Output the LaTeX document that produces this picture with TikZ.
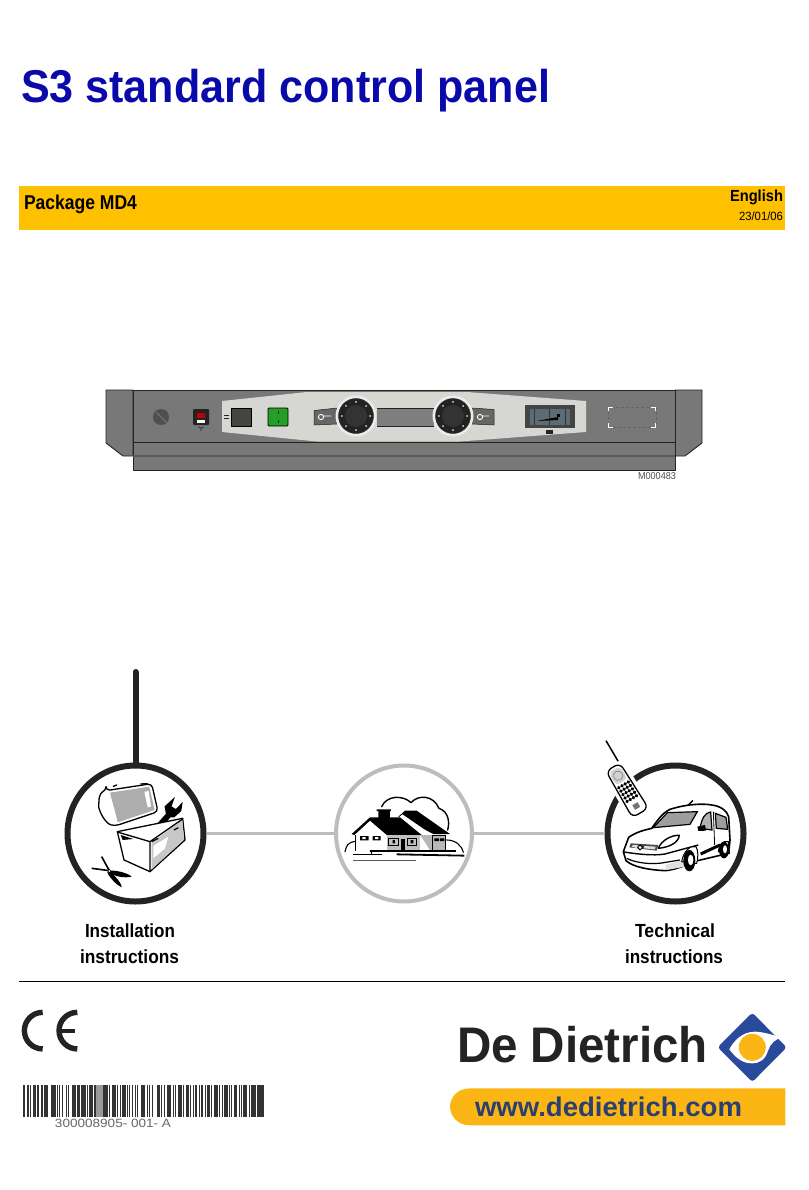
\documentclass[tikz,border=0pt]{standalone}
\usepackage{fontspec}
\usepackage{graphicx}
\setmainfont{Liberation Sans}
\usetikzlibrary{shapes.geometric}
\definecolor{barY}{HTML}{FFC000}
\definecolor{titleB}{HTML}{0A0AAA}
\definecolor{logoB}{HTML}{2A4A9C}
\definecolor{logoY}{HTML}{FBB616}
\definecolor{urlB}{HTML}{2B4070}
\definecolor{panelG}{HTML}{787878}
\definecolor{panelL}{HTML}{D6D6D2}
\definecolor{ringG}{HTML}{BDBDBD}
\definecolor{dk}{HTML}{232323}
\definecolor{glass}{HTML}{5C6C74}
\newcommand{\fitw}[2]{\resizebox{#1pt}{\height}{#2}}
\newcommand{\fsz}[1]{\fontsize{#1pt}{#1pt}\selectfont}
\tikzset{
 lbl/.style={inner sep=0pt,outer sep=0pt,anchor=base west},
 ring/.style={circle,draw=dk,line width=6pt,minimum size=136pt,inner sep=0pt,fill=white},
 gring/.style={circle,draw=ringG,line width=4pt,minimum size=136pt,inner sep=0pt,fill=white},
 link/.style={draw=ringG,line width=3pt},
 ink/.style={draw=black,line width=1.3pt,line join=round,line cap=round},
 pan/.style={draw=dk,line width=.9pt,fill=panelG,line join=round},
 knob/.style={circle,fill=dk,draw=dk,minimum size=35pt,inner sep=0pt},
 keybtn/.style={draw=dk,line width=.5pt,fill=panelG!85!black},
}
\begin{document}
\begin{tikzpicture}[x=1pt,y=-1pt]
\useasboundingbox (0,0) rectangle (808,1190);
\fill[white] (0,0) rectangle (808,1190);

% header
\node[lbl,text=titleB] (title) at (21,103) {\fsz{46}\bfseries\fitw{529}{S3 standard control panel}};
\node[fill=barY,minimum width=766pt,minimum height=44pt,inner sep=0pt,anchor=north west] (bar) at (19,186) {};
\node[lbl] (pkg) at (24,210) {\fsz{20}\bfseries\fitw{113}{Package MD4}};
\node[lbl,anchor=base east] (eng) at (783,202) {\fsz{16}\bfseries\fitw{53}{English}};
\node[lbl,anchor=base east] (dat) at (783,221) {\fsz{12}\fitw{44}{23/01/06}};

% control panel
\draw[pan] (133,390) -- (106,390) -- (106,443) -- (123,456) -- (133,456) -- cycle;
\draw[pan] (675,390) -- (702,390) -- (702,443) -- (685,456) -- (675,456) -- cycle;
\draw[pan] (133,442) rectangle (675,470);
\fill[panelG!75!black] (133,454.5) rectangle (675,457);
\draw[pan,line width=1pt] (133,390) rectangle (675,442);
\fill[panelL] (222,401) -- (307,392) -- (467,392) -- (586,401) -- (586,432) -- (460,441.5) -- (317,441.5) -- (222,432) -- cycle;
\fill[dk!80!white] (161,417) circle (8);
\draw[panelG,line width=.8pt] (156,412) -- (166,422);
\fill[dk,rounded corners=1pt] (193,409) rectangle (209,425);
\fill[red!75!black] (197,412.5) rectangle (205,418);
\fill[white] (197,420) rectangle (205,423);
\draw[dk,line width=.6pt] (198,427) -- (201,428) -- (204,427) (201,428) -- (201,431);
\draw[dk,line width=1pt] (224,415) -- (229,415) (224,418) -- (229,418);
\draw[black,line width=.8pt,fill=dk!85!white] (231.5,408) rectangle (251,426);
\draw[black,line width=.8pt,fill=green!55!black!85!white,rounded corners=1pt] (268,408) rectangle (288,426);
\draw[dk,line width=.8pt] (278,411) -- (278,413.5) (278,420) -- (278,423);
% left key
\draw[keybtn] (314,410.5) -- (337,408) -- (337,424) -- (314,425) -- cycle;
\draw[white,line width=.9pt] (321,417) circle (2.6) (323.5,416) -- (331,416);
% right key
\draw[keybtn] (472,408) -- (494,409.5) -- (494,425) -- (472,424) -- cycle;
\draw[white,line width=.9pt] (480,417) circle (2.6) (482.5,416) -- (489,416);
% display
\fill[panelG!95!white] (377,408) -- (434,408) -- (434,426) -- (377,426) -- cycle;
\draw[dk,line width=.4pt] (377,408) -- (434,408) (377,426) -- (434,426);
% knobs
\fill[panelL!50!white] (356,416) circle (20.5);
\fill[panelL!50!white] (453,416) circle (20.5);
\node[knob] (k1) at (356,416) {};
\node[knob] (k2) at (453,416) {};
\fill[black!80] (356,416) circle (11);
\fill[black!80] (453,416) circle (11);
\foreach \cx in {356,453} \foreach \a in {0,45,...,315} {
  \fill[white!85!black] (\cx,416) ++(\a:14.2) circle (1);
}
% window
\fill[dk!85!white] (525,405) rectangle (574.5,428);
\fill[glass] (530,409) rectangle (570,425);
\draw[black!80,line width=.5pt] (549,409) -- (549,425) (534,409) -- (534,425) (565,409) -- (565,425);
\fill[black] (537,421) -- (558,417) -- (558,420) -- cycle;
\fill[black] (557,414) rectangle (560,416.5);
\fill[dk] (546,430) rectangle (553,434);
% dashed box
\draw[dk!70!white,line width=.5pt,densely dashed] (608,407) rectangle (656,427);
\draw[white,line width=.9pt] (608.5,411) -- (608.5,407) -- (613,407) (651,407) -- (655.5,407) -- (655.5,411)
  (655.5,423) -- (655.5,427) -- (651,427) (613,427) -- (608.5,427) -- (608.5,423);
\node[lbl,text=black!70] (ref) at (638,479) {\fsz{10}\fitw{38}{M000483}};

% circles and connectors
\coordinate (ant) at (135.5,672);
\node[ring] (cl) at (135.5,833.5) {};
\node[gring] (cm) at (404,833.5) {};
\node[ring] (cr) at (675.5,833.5) {};
\draw[link] (cl) -- (cm);
\draw[link] (cm) -- (cr);
\draw[dk,line width=6pt,line cap=round] (ant) -- (cl.north);

% toolbox
\begin{scope}[shift={(50,660)},x=.3333pt,y=-.3333pt]
\draw[ink] (190,379) -- (200,375) (272,372) -- (292,371);
\draw[ink,fill=white,rounded corners=4pt] (168,392) -- (305,371) -- (324,455) -- (195,498) .. controls (165,490) and (145,450) .. (147,425) .. controls (148,405) and (155,397) .. (168,392) -- cycle;
\fill[black!32] (180,398) -- (298,380) -- (314,450) -- (203,487) .. controls (195,450) and (185,420) .. (180,398) -- cycle;
\fill[white] (283,395) -- (296,393) -- (303,440) -- (293,442) -- cycle;
\draw[black,line width=1.4pt,fill=black] (332,505) -- (318,498) -- (350,462) -- (346,440) -- (370,418) -- (362,440) -- (378,450) -- (395,432) -- (392,452) -- (372,470) -- (360,470) -- cycle;
\draw[ink,fill=white] (202,515) -- (398,475) -- (405,540) -- (300,635) -- (222,600) -- cycle;
\fill[black!22] (305,548) -- (397,480) -- (402,538) -- (305,628) -- cycle;
\fill[white] (310,558) -- (355,530) -- (345,565) -- (310,595) -- cycle;
\draw[ink] (205,517) -- (300,545) -- (398,477) (300,545) -- (300,635);
\fill[black] (212,525) -- (250,537) -- (218,540) -- cycle;
\draw[black,line width=1.2pt] (305,545) -- (325,535) (372,510) -- (385,503);
\draw[black,line width=1.6pt] (155,590) -- (178,632);
\draw[black,line width=1.6pt] (125,625) -- (178,632);
\fill[black] (178,632) .. controls (200,630) and (235,640) .. (245,650) .. controls (225,655) and (195,650) .. (178,638) -- cycle;
\fill[black] (176,634) .. controls (195,645) and (215,670) .. (215,682) .. controls (200,675) and (180,655) .. (172,638) -- cycle;
\fill[white] (178,633) circle (5); \draw[black,line width=.6pt] (178,633) circle (5);
\end{scope}

% house
\begin{scope}[shift={(325,755)},x=.3333pt,y=-.3333pt]
\draw[ink,line width=1.4pt] (170,155) .. controls (185,120) and (235,120) .. (258,143) .. controls (280,118) and (325,120) .. (342,160) .. controls (370,170) and (375,200) .. (368,225);
\draw[ink,line width=1.1pt] (60,290) .. controls (65,270) and (70,265) .. (78,262) .. controls (95,255) and (110,262) .. (122,278) .. controls (130,280) and (138,285) .. (140,295);
\draw[ink,line width=1.1pt] (365,255) .. controls (390,255) and (410,270) .. (415,292);
% right wing
\fill[black] (220,185) -- (240,167) -- (275,167) -- (375,237) -- (325,237) -- cycle;
\fill[white] (222,187) -- (232,178) -- (318,237) -- (285,237) -- cycle;
\fill[black!28] (285,240) -- (322,240) -- (322,287) -- (315,287) -- cycle;
\fill[white] (285,240) -- (315,287) -- (285,287) -- cycle;
\draw[black,line width=1pt,fill=black!28] (322,240) rectangle (363,287);
\fill[black] (328,250) rectangle (342,258) (345,250) rectangle (358,258);
% main
\fill[black] (80,237) -- (135,187) -- (160,187) -- (160,168) -- (155,168) -- (155,163) -- (198,163) -- (198,168) -- (195,168) -- (195,187) -- (225,187) -- (290,240) -- (185,240) -- (135,197) -- (88,240) -- cycle;
\fill[white] (92,240) -- (135,199) -- (183,240) -- (183,287) -- (92,287) -- cycle;
\fill[black!25] (186,240) rectangle (285,287);
\draw[black,line width=.8pt] (92,240) -- (92,287);
\fill[black] (105,243) rectangle (131,256) (143,243) rectangle (167,256);
\fill[white] (112,246) rectangle (122,252) (150,246) rectangle (160,252);
\draw[black,line width=1pt] (192,250) rectangle (220,270) (247,250) rectangle (275,270);
\fill[black] (203,255) rectangle (210,265) (257,255) rectangle (265,265);
\fill[black] (228,252) rectangle (241,287);
\draw[black,line width=1.3pt] (135,288) -- (392,288);
\draw[black,line width=1pt] (85,300) -- (172,300);
\draw[black,line width=1.8pt] (215,298) -- (418,302);
\draw[black!65,line width=1pt] (85,316) -- (272,316);
\end{scope}

% car and phone
\begin{scope}[shift={(590,730)},x=.3333pt,y=-.3333pt]
\draw[ink,line width=1.3pt] (280,240) -- (308,212);
\draw[ink,line width=1.6pt,fill=white] (100,365) -- (116,322) .. controls (140,305) and (165,300) .. (185,295) .. controls (200,275) and (215,250) .. (240,238) .. controls (290,222) and (340,220) .. (365,225) .. controls (390,228) and (410,240) .. (416,260) -- (420,330) -- (416,370) -- (310,395) .. controls (280,410) and (250,420) .. (225,422) .. controls (180,420) and (130,412) .. (108,392) -- cycle;
\fill[black!12] (225,405) -- (300,385) -- (285,410) -- (230,420) -- cycle;
\draw[black,line width=1.2pt,fill=black!38] (190,293) -- (232,248) -- (322,245) -- (300,283) -- cycle;
\draw[black,line width=1.2pt,fill=black!30] (330,295) .. controls (335,265) and (345,248) .. (362,246) -- (366,300) -- cycle;
\draw[black,line width=1.2pt,fill=black!38] (376,250) -- (408,262) -- (413,298) -- (379,295) -- cycle;
\fill[black] (322,290) -- (345,285) -- (348,302) -- (325,303) -- cycle;
\draw[black,line width=.8pt] (370,245) -- (374,345);
\draw[ink,fill=white,line width=1.4pt] (205,355) .. controls (215,330) and (245,315) .. (268,316) .. controls (265,340) and (235,352) .. (205,355) -- cycle;
\fill[black!70] (122,340) -- (205,345) -- (200,362) -- (118,352) -- cycle;
\fill[black!12] (128,345) -- (145,346) -- (143,355) -- (126,350) -- cycle (163,348) -- (197,350) -- (194,358) -- (162,355) -- cycle;
\draw[black,line width=1pt,fill=white] (150,345) -- (158,352) -- (150,360) -- (143,352) -- cycle;
\draw[black,line width=1.4pt] (102,366) .. controls (140,372) and (190,378) .. (225,372) -- (325,345);
\draw[black,line width=1.2pt] (110,385) .. controls (140,400) and (190,405) .. (227,397) -- (270,390);
\draw[black,line width=3pt] (332,372) -- (390,345);
\draw[black,line width=1pt,fill=white] (275,395) .. controls (280,365) and (300,345) .. (318,350) .. controls (325,360) and (325,385) .. (320,400) -- (310,400) -- cycle;
\fill[black] (298,392) ellipse [x radius=6pt,y radius=10.7pt];
\fill[white] (302,390) ellipse [x radius=2.7pt,y radius=5.3pt];
\draw[black,line width=1pt,fill=white] (385,365) .. controls (385,345) and (400,330) .. (415,335) -- (418,370) -- cycle;
\fill[black] (402,360) ellipse [x radius=5pt,y radius=8.3pt];
\fill[white] (405,358) ellipse [x radius=2pt,y radius=4pt];
% phone
\draw[black,line width=1.5pt] (48,32) -- (88,100);
\begin{scope}[shift={(110,180)},rotate=-59]
\fill[white,rounded corners=7pt] (-88,-38) rectangle (88,38);
\draw[black,line width=1.3pt,fill=white,rounded corners=6pt] (-80,-24) -- (80,-28) -- (80,28) -- (-80,24) -- cycle;
\fill[black!18,rounded corners=4pt] (-72,-19) -- (-28,-20) -- (-28,20) -- (-72,19) -- cycle;
\draw[black!50,line width=.6pt] (-50,0) circle (4.7pt);
\foreach \i in {0,...,4} \foreach \j in {-1.5,-.5,.5,1.5} {
  \fill[black] ({-18+\i*12},{\j*11}) circle (1.9pt);
}
\fill[black!55] (48,-9) rectangle (64,9);
\end{scope}
\end{scope}

\node[lbl] (i1) at (85,937) {\fsz{19}\bfseries\fitw{90}{Installation}};
\node[lbl] (i2) at (80,963) {\fsz{19}\bfseries\fitw{99}{instructions}};
\node[lbl] (t1) at (635,937) {\fsz{19}\bfseries\fitw{80}{Technical}};
\node[lbl] (t2) at (625,963) {\fsz{19}\bfseries\fitw{98}{instructions}};
\draw[black,line width=1pt] (19,981) -- (785,981);

% CE
\begin{scope}[shift={(10,1000)},x=.3333pt,y=-.3333pt]
\draw[dk,line width=5.4pt] (98,37) arc[start angle=90,end angle=270,radius=18.3pt];
\draw[dk,line width=5.4pt] (202,37) arc[start angle=90,end angle=270,radius=18.3pt];
\draw[dk,line width=4.2pt] (150,92) -- (196,92);
\foreach \s/\w in {40/6,52/5,60/3,68/10,80/3,85/3,92/8,101/14,122/3,127/12,142/3,147/2,155/5,168/3,173/2,185/12,200/6,208/3,212/6,220/8,230/5,238/7,246/4,252/5,268/3,280/14,297/2,305/12,322/2,330/4,336/12,352/3,358/3,365/5,376/2,382/3,392/14,410/3,418/2,427/2,442/8,453/3,462/4,470/12,488/4,496/3,503/14,520/3,527/10,540/3,548/5,556/6,566/2,574/4,586/3,592/9,604/3,612/12,628/3,635/5,643/10,656/3,664/2,672/10,686/3,693/4,700/12,716/3,722/9,733/4,741/21} {
  \fill[black!80] (\s,255) rectangle ++(\w,95);
}
\fill[black!40] (258,255) rectangle (280,350);
\node[lbl,text=black!60] (bc) at (135,381) {\fsz{12}\fitw{116}{300008905- 001- A}};
\end{scope}

% logo
\node[lbl,text=dk] (dd) at (457,1062) {\fsz{50}\bfseries\fitw{251}{De Dietrich}};
\begin{scope}[shift={(440,1000)},x=.3333pt,y=-.3333pt]
\fill[logoB,rounded corners=3pt] (937,38) -- (1040,142) -- (937,246) -- (833,142) -- cycle;
\fill[white] (868,148) .. controls (880,125) and (905,95) .. (945,95) .. controls (975,95) and (1005,110) .. (1030,110) .. controls (1005,118) and (992,130) .. (985,150) .. controls (975,180) and (960,190) .. (935,190) .. controls (905,190) and (885,170) .. (868,148) -- cycle;
\fill[logoY] (937,142) circle (13.5pt);
\fill[logoY] (90,265) -- (1036,265) -- (1036,376) -- (90,376) .. controls (50,376) and (30,345) .. (30,320) .. controls (30,295) and (50,265) .. (90,265) -- cycle;
\node[lbl,text=urlB] (url) at (105,350) {\fsz{27}\bfseries\fitw{267}{www.dedietrich.com}};
\end{scope}
\end{tikzpicture}
\end{document}
